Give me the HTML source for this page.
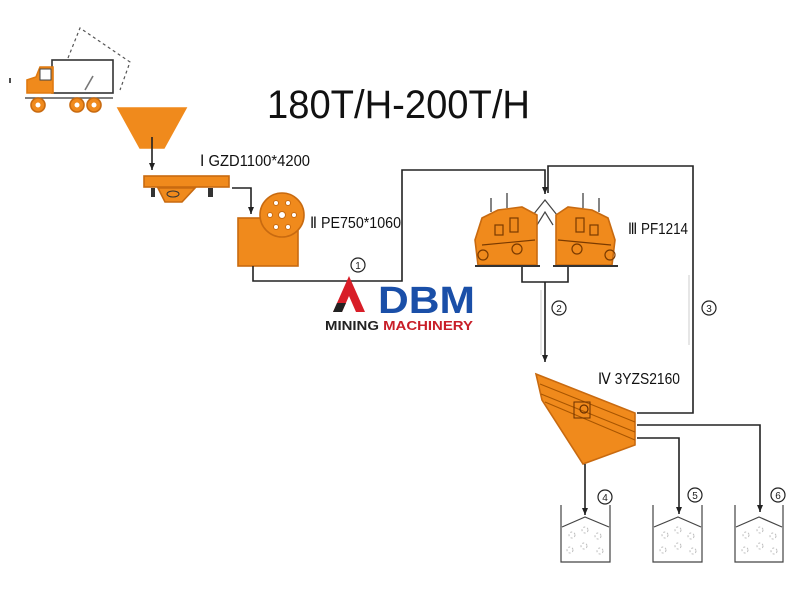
<!DOCTYPE html>
<html><head><meta charset="utf-8"><style>
html,body{margin:0;padding:0;background:#fff;width:800px;height:600px;overflow:hidden}
text{font-family:"Liberation Sans",sans-serif}
</style></head><body>
<svg width="800" height="600" viewBox="0 0 800 600" xmlns="http://www.w3.org/2000/svg">
<defs><marker id="ar" markerUnits="userSpaceOnUse" markerWidth="8" markerHeight="8" refX="7" refY="3" orient="auto"><path d="M0,0 L7,3 L0,6 Z" fill="#222"/></marker></defs>
<g stroke="#222" stroke-width="1.6" fill="none">
<!-- truck -->
<rect x="52" y="60" width="61" height="33" fill="#fff" stroke="#333"/>
<polyline points="68,58 80,28 130,62 120,90" stroke="#555" stroke-dasharray="3,3" stroke-width="1.2"/>
<line x1="85" y1="90" x2="93" y2="76" stroke="#777"/>
<path d="M27,93 L27,80 L36,77 L40,67 L53,67 L53,93 Z" fill="#f08a1c" stroke="#e07a10"/>
<rect x="40" y="69" width="11" height="11" fill="#fff" stroke="#444" stroke-width="1"/>
<line x1="25" y1="98" x2="113" y2="98" stroke="#555"/>
<circle cx="38" cy="105" r="7" fill="#f08a1c" stroke="#c86a10"/><circle cx="38" cy="105" r="2.5" fill="#fff" stroke="none"/>
<circle cx="77" cy="105" r="7" fill="#f08a1c" stroke="#c86a10"/><circle cx="77" cy="105" r="2.5" fill="#fff" stroke="none"/>
<circle cx="94" cy="105" r="7" fill="#f08a1c" stroke="#c86a10"/><circle cx="94" cy="105" r="2.5" fill="#fff" stroke="none"/>
<line x1="10" y1="78" x2="10" y2="83"/>
<!-- hopper -->
<polygon points="118,108 186,108 164,148 140,148" fill="#f08a1c" stroke="#f08a1c"/>
<line x1="152" y1="137" x2="152" y2="170" marker-end="url(#ar)"/>
<!-- feeder -->
<rect x="144" y="176" width="85" height="11" fill="#f08a1c" stroke="#c86a10"/>
<polygon points="158,188 195,188 182,202 165,202" fill="#f08a1c" stroke="#c86a10"/>
<ellipse cx="173" cy="194" rx="6" ry="3" fill="none" stroke="#333" stroke-width="1"/>
<rect x="151" y="188" width="4" height="9" fill="#333" stroke="none"/><rect x="208" y="188" width="5" height="9" fill="#333" stroke="none"/>
<polyline points="232,188 251,188 251,214" marker-end="url(#ar)"/>
<!-- jaw crusher -->
<rect x="238" y="218" width="60" height="48" fill="#f08a1c" stroke="#c86a10"/>
<circle cx="282" cy="215" r="22" fill="#f08a1c" stroke="#c86a10"/>
<g fill="#fff" stroke="#c86a10" stroke-width="1"><circle cx="282" cy="215" r="3.5"/><circle cx="276" cy="203" r="2.5"/><circle cx="288" cy="203" r="2.5"/><circle cx="270" cy="215" r="2.5"/><circle cx="294" cy="215" r="2.5"/><circle cx="276" cy="227" r="2.5"/><circle cx="288" cy="227" r="2.5"/></g>
<!-- conveyor lines -->
<polyline points="253,266 253,281 402,281 402,170 545,170 545,194" marker-end="url(#ar)"/>
<polyline points="548,193 548,166 693,166 693,413 637,413"/>
<polyline points="522,262 522,282 568,282 568,262"/>
<line x1="545" y1="282" x2="545" y2="362" marker-end="url(#ar)"/>
<line x1="541" y1="290" x2="541" y2="355" stroke="#ccc" stroke-width="1"/>
<line x1="689" y1="275" x2="689" y2="345" stroke="#ccc" stroke-width="1"/>
<!-- impact crushers -->
<polyline points="533,215 545,200 557,215" stroke="#444" stroke-width="1.2"/>
<polyline points="537,225 545,212 553,225" stroke="#444" stroke-width="1.2"/>
<path d="M478,265 L475,240 L482,218 L498,210 L522,207 L537,215 L537,265 Z" fill="#f08a1c" stroke="#c86a10"/>
<path d="M612,265 L615,240 L608,218 L592,210 L568,207 L556,215 L556,265 Z" fill="#f08a1c" stroke="#c86a10"/>
<g stroke="#7a3a00" stroke-width="1.2"><rect x="495" y="225" width="8" height="10"/><rect x="510" y="218" width="8" height="14"/><rect x="576" y="218" width="8" height="14"/><rect x="590" y="225" width="8" height="10"/>
<line x1="482" y1="245" x2="535" y2="240"/><line x1="558" y1="240" x2="611" y2="245"/>
<circle cx="483" cy="255" r="5"/><circle cx="517" cy="249" r="5"/><circle cx="577" cy="249" r="5"/><circle cx="610" cy="255" r="5"/>
<line x1="475" y1="266" x2="540" y2="266" stroke="#333" stroke-width="2"/><line x1="553" y1="266" x2="618" y2="266" stroke="#333" stroke-width="2"/>
<line x1="491" y1="198" x2="491" y2="212" stroke="#333"/><line x1="507" y1="193" x2="507" y2="208" stroke="#333"/><line x1="583" y1="193" x2="583" y2="208" stroke="#333"/><line x1="599" y1="198" x2="599" y2="212" stroke="#333"/></g>
<!-- screen -->
<polygon points="536,374 635,413 635,445 583,464 542,400" fill="#f08a1c" stroke="#c86a10"/>
<g stroke="#a85500" stroke-width="1"><line x1="540" y1="384" x2="635" y2="422"/><line x1="541" y1="394" x2="635" y2="432"/><line x1="545" y1="402" x2="635" y2="440"/></g>
<rect x="574" y="402" width="16" height="16" stroke="#6a3000" stroke-width="1"/><circle cx="584" cy="409" r="4" stroke="#6a3000" stroke-width="1.2"/>
<polyline points="637,425 760,425 760,512" marker-end="url(#ar)"/>
<polyline points="637,438 679,438 679,514" marker-end="url(#ar)"/>
<line x1="585" y1="464" x2="585" y2="515" marker-end="url(#ar)"/>
<!-- bins -->
<g stroke="#444" stroke-width="1.2">
<polyline points="561,505 561,562 610,562 610,505"/><polyline points="562,527 585,517 609,527" />
<polyline points="653,505 653,562 702,562 702,505"/><polyline points="654,527 678,517 701,527"/>
<polyline points="735,505 735,562 783,562 783,505"/><polyline points="736,527 759,517 782,527"/>
</g>
<g stroke="#bbb" stroke-width="1" stroke-dasharray="2,2">
<circle cx="572" cy="535" r="3"/><circle cx="585" cy="530" r="3"/><circle cx="598" cy="536" r="3"/><circle cx="570" cy="550" r="3"/><circle cx="584" cy="546" r="3"/><circle cx="600" cy="551" r="3"/>
<circle cx="665" cy="535" r="3"/><circle cx="678" cy="530" r="3"/><circle cx="691" cy="536" r="3"/><circle cx="663" cy="550" r="3"/><circle cx="678" cy="546" r="3"/><circle cx="693" cy="551" r="3"/>
<circle cx="746" cy="535" r="3"/><circle cx="760" cy="530" r="3"/><circle cx="773" cy="536" r="3"/><circle cx="745" cy="550" r="3"/><circle cx="760" cy="546" r="3"/><circle cx="774" cy="551" r="3"/>
</g>
<!-- numbered circles -->
<g stroke="#222" stroke-width="1.2"><circle cx="358" cy="265" r="7"/><circle cx="559" cy="308" r="7"/><circle cx="709" cy="308" r="7"/><circle cx="605" cy="497" r="7"/><circle cx="695" cy="495" r="7"/><circle cx="778" cy="495" r="7"/></g>
</g>
<g font-size="10" text-anchor="middle" fill="#222">
<text x="358" y="269">1</text><text x="559" y="312">2</text><text x="709" y="312">3</text><text x="605" y="501">4</text><text x="695" y="499">5</text><text x="778" y="499">6</text>
</g>
<!-- labels -->
<text x="267" y="118" font-size="40" fill="#111" textLength="263" lengthAdjust="spacingAndGlyphs">180T/H-200T/H</text>
<text x="200" y="166" font-size="16" fill="#111" textLength="110" lengthAdjust="spacingAndGlyphs">Ⅰ GZD1100*4200</text>
<text x="310" y="228" font-size="16" fill="#111" textLength="91" lengthAdjust="spacingAndGlyphs">Ⅱ PE750*1060</text>
<text x="628" y="234" font-size="16" fill="#111" textLength="60" lengthAdjust="spacingAndGlyphs">Ⅲ PF1214</text>
<text x="598" y="384" font-size="16" fill="#111" textLength="82" lengthAdjust="spacingAndGlyphs">Ⅳ 3YZS2160</text>
<!-- logo -->
<polygon points="349,276 333,312 342,312 349,296 356,312 365,312" fill="#d81e28"/>
<polygon points="333,312 342,312 346,303 337,303" fill="#222"/>
<text x="378" y="313" font-size="38" font-weight="bold" fill="#1a4fa8" textLength="97" lengthAdjust="spacingAndGlyphs">DBM</text>
<text x="325" y="330" font-size="13" font-weight="bold" fill="#222" textLength="148" lengthAdjust="spacingAndGlyphs">MINING <tspan fill="#c81e28">MACHINERY</tspan></text>
</svg>
</body></html>
